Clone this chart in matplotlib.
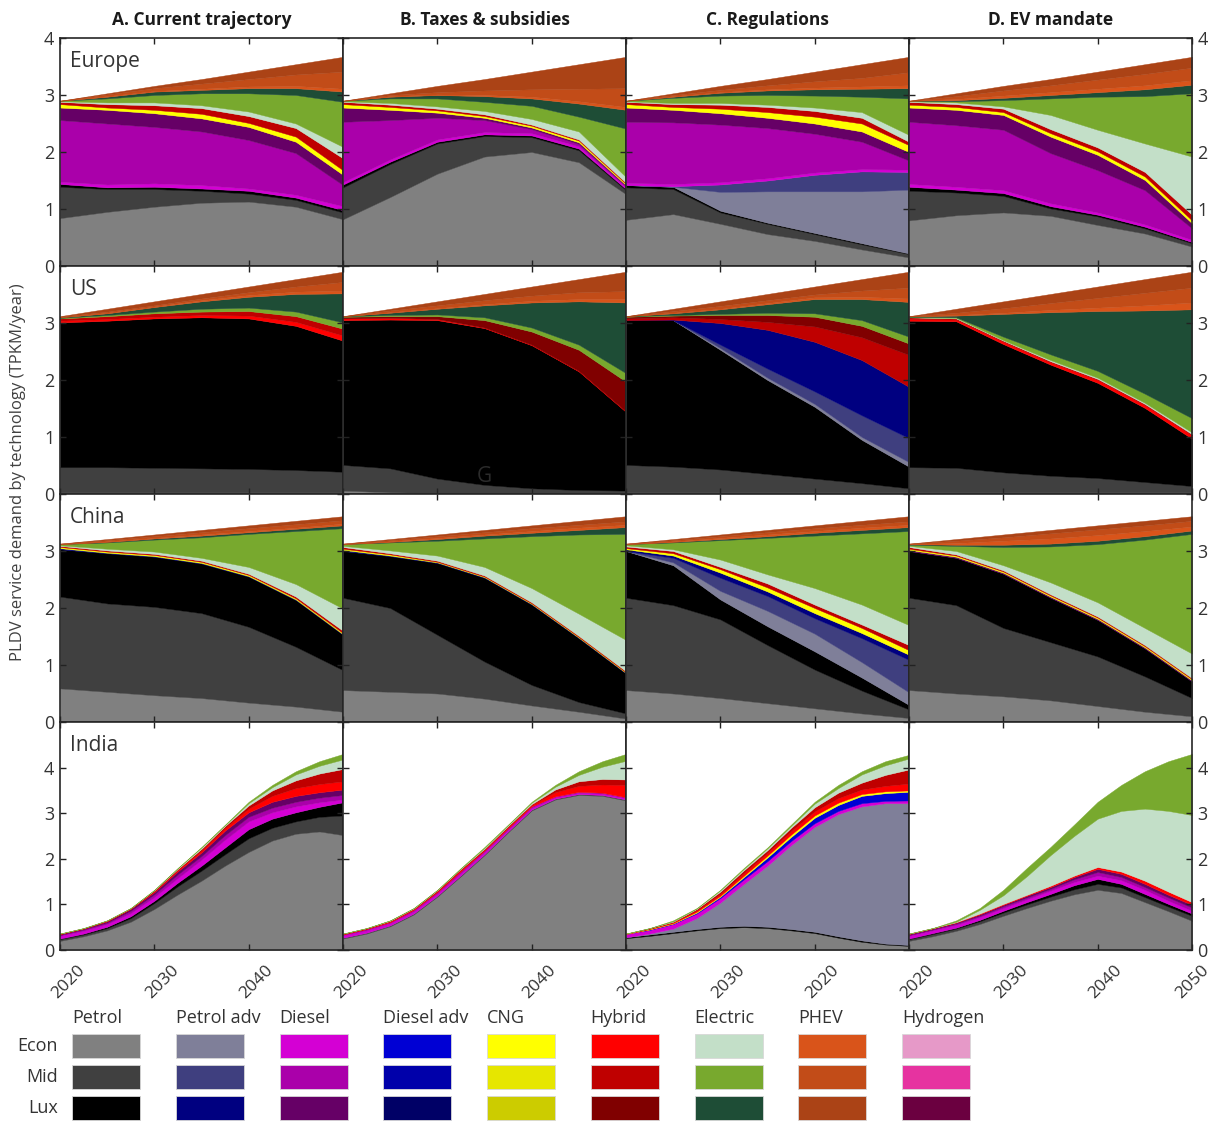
import numpy as np
import matplotlib
matplotlib.use('Agg')
import matplotlib.pyplot as plt
import matplotlib.transforms as mtransforms
from matplotlib.patches import Rectangle

plt.rcParams['font.family'] = ['Open Sans', 'DejaVu Sans']

years = [2020, 2025, 2030, 2035, 2040, 2045, 2050]
india_years = [2020, 2022.5, 2025, 2027.5, 2030, 2032.5, 2035, 2037.5, 2040, 2042.5, 2045, 2047.5, 2050]
techs = ['Petrol', 'Petrol adv', 'Diesel', 'Diesel adv', 'CNG', 'Hybrid', 'Electric', 'PHEV', 'Hydrogen']
sizes = ['Econ', 'Mid', 'Lux']
tech_colors = {
    'Petrol':     ['#808080', '#404040', '#000000'],
    'Petrol adv': ['#7f7f99', '#3f3f7f', '#000080'],
    'Diesel':     ['#d400d4', '#aa00aa', '#660066'],
    'Diesel adv': ['#0000d4', '#0000aa', '#000066'],
    'CNG':        ['#ffff00', '#e6e600', '#cccc00'],
    'Hybrid':     ['#ff0000', '#bf0000', '#800000'],
    'Electric':   ['#c3dfc8', '#78a92e', '#1e4d36'],
    'PHEV':       ['#d9541a', '#c24c18', '#ab4316'],
    'Hydrogen':   ['#e699c8', '#e633a0', '#6b0040'],
}
scenarios = ['A. Current trajectory', 'B. Taxes & subsidies', 'C. Regulations', 'D. EV mandate']
regions = ['Europe', 'US', 'China', 'India']

# top edge of each stacked layer (TPKM/year)
europe_a = {
    'Petrol Econ':   [0.84, 0.95, 1.04, 1.11, 1.13, 1.04, 0.82],
    'Petrol Mid':    [1.39, 1.35, 1.35, 1.32, 1.27, 1.16, 0.94],
    'Petrol Lux':    [1.44, 1.38, 1.39, 1.36, 1.32, 1.20, 0.98],
    'Diesel Econ':   [1.48, 1.43, 1.45, 1.42, 1.36, 1.25, 1.05],
    'Diesel Mid':    [2.56, 2.50, 2.44, 2.36, 2.21, 1.98, 1.42],
    'Diesel Lux':    [2.78, 2.74, 2.68, 2.59, 2.44, 2.18, 1.60],
    'CNG Econ':      [2.84, 2.78, 2.74, 2.67, 2.51, 2.27, 1.68],
    'Hybrid Mid':    [2.88, 2.84, 2.82, 2.77, 2.63, 2.42, 1.89],
    'Electric Econ': [2.89, 2.87, 2.87, 2.82, 2.71, 2.50, 2.09],
    'Electric Mid':  [2.90, 2.94, 3.00, 3.03, 3.03, 3.00, 2.88],
    'Electric Lux':  [2.90, 2.97, 3.06, 3.09, 3.12, 3.12, 3.06],
    'PHEV Econ':     [2.90, 2.98, 3.07, 3.11, 3.15, 3.16, 3.11],
    'PHEV Mid':      [2.90, 3.01, 3.12, 3.20, 3.28, 3.36, 3.41],
    'PHEV Lux':      [2.90, 3.03, 3.16, 3.28, 3.41, 3.54, 3.67],
}
europe_b = {
    'Petrol Econ':   [0.82, 1.21, 1.62, 1.92, 2.00, 1.82, 1.26],
    'Petrol Mid':    [1.38, 1.79, 2.15, 2.28, 2.26, 2.03, 1.33],
    'Petrol Lux':    [1.43, 1.83, 2.18, 2.31, 2.29, 2.06, 1.35],
    'Diesel Econ':   [1.47, 1.87, 2.22, 2.35, 2.33, 2.10, 1.38],
    'Diesel Mid':    [2.53, 2.56, 2.60, 2.56, 2.40, 2.14, 1.40],
    'Diesel Lux':    [2.78, 2.74, 2.69, 2.60, 2.43, 2.17, 1.42],
    'CNG Econ':      [2.84, 2.79, 2.73, 2.63, 2.46, 2.20, 1.44],
    'Hybrid Mid':    [2.88, 2.83, 2.76, 2.66, 2.48, 2.22, 1.46],
    'Electric Econ': [2.89, 2.86, 2.80, 2.72, 2.58, 2.36, 1.56],
    'Electric Mid':  [2.90, 2.94, 2.94, 2.88, 2.81, 2.62, 2.41],
    'Electric Lux':  [2.90, 2.97, 3.00, 2.98, 2.94, 2.85, 2.74],
    'PHEV Econ':     [2.90, 2.98, 3.01, 3.00, 2.97, 2.89, 2.79],
    'PHEV Mid':      [2.90, 3.00, 3.05, 3.08, 3.10, 3.11, 3.12],
    'PHEV Lux':      [2.90, 3.03, 3.16, 3.28, 3.41, 3.54, 3.67],
}
europe_c = {
    'Petrol Econ':     [0.81, 0.91, 0.74, 0.56, 0.44, 0.29, 0.15],
    'Petrol Mid':      [1.38, 1.35, 0.94, 0.74, 0.56, 0.38, 0.21],
    'Petrol Lux':      [1.42, 1.39, 0.97, 0.76, 0.58, 0.40, 0.22],
    'Petrol adv Econ': [1.42, 1.39, 1.30, 1.31, 1.31, 1.31, 1.34],
    'Petrol adv Mid':  [1.42, 1.40, 1.43, 1.50, 1.60, 1.66, 1.65],
    'Diesel Econ':     [1.46, 1.44, 1.47, 1.54, 1.64, 1.70, 1.69],
    'Diesel Mid':      [2.53, 2.52, 2.48, 2.42, 2.32, 2.18, 1.85],
    'Diesel Lux':      [2.78, 2.74, 2.68, 2.60, 2.50, 2.36, 2.00],
    'CNG Econ':        [2.84, 2.79, 2.76, 2.70, 2.62, 2.50, 2.12],
    'Hybrid Mid':      [2.88, 2.84, 2.83, 2.79, 2.72, 2.60, 2.18],
    'Electric Econ':   [2.89, 2.86, 2.86, 2.83, 2.78, 2.70, 2.30],
    'Electric Mid':    [2.90, 2.95, 2.99, 3.00, 2.99, 2.97, 2.94],
    'Electric Lux':    [2.90, 2.97, 3.04, 3.08, 3.10, 3.11, 3.12],
    'PHEV Econ':       [2.90, 2.98, 3.05, 3.10, 3.13, 3.15, 3.17],
    'PHEV Mid':        [2.90, 3.00, 3.09, 3.17, 3.24, 3.30, 3.40],
    'PHEV Lux':        [2.90, 3.03, 3.16, 3.28, 3.41, 3.54, 3.67],
}
europe_d = {
    'Petrol Econ':   [0.80, 0.89, 0.94, 0.88, 0.72, 0.57, 0.34],
    'Petrol Mid':    [1.32, 1.29, 1.23, 1.01, 0.87, 0.66, 0.40],
    'Petrol Lux':    [1.39, 1.34, 1.28, 1.05, 0.90, 0.69, 0.42],
    'Diesel Econ':   [1.44, 1.39, 1.33, 1.10, 0.94, 0.73, 0.46],
    'Diesel Mid':    [2.53, 2.47, 2.39, 1.98, 1.68, 1.33, 0.66],
    'Diesel Lux':    [2.78, 2.74, 2.65, 2.27, 1.95, 1.51, 0.75],
    'CNG Econ':      [2.83, 2.79, 2.70, 2.33, 2.01, 1.57, 0.80],
    'Hybrid Mid':    [2.88, 2.84, 2.76, 2.40, 2.08, 1.65, 0.90],
    'Electric Econ': [2.89, 2.87, 2.80, 2.65, 2.39, 2.15, 1.92],
    'Electric Mid':  [2.90, 2.89, 2.91, 2.94, 2.97, 2.98, 3.03],
    'Electric Lux':  [2.90, 2.91, 2.95, 3.00, 3.05, 3.10, 3.18],
    'PHEV Econ':     [2.90, 2.93, 2.99, 3.05, 3.11, 3.17, 3.26],
    'PHEV Mid':      [2.90, 2.98, 3.08, 3.17, 3.27, 3.37, 3.48],
    'PHEV Lux':      [2.90, 3.03, 3.16, 3.28, 3.41, 3.54, 3.67],
}
us_a = {
    'Petrol Econ':  [0.03, 0.03, 0.03, 0.03, 0.03, 0.03, 0.03],
    'Petrol Mid':   [0.47, 0.47, 0.46, 0.45, 0.44, 0.42, 0.39],
    'Petrol Lux':   [3.01, 3.04, 3.08, 3.10, 3.08, 2.95, 2.69],
    'Hybrid Econ':  [3.04, 3.07, 3.11, 3.14, 3.13, 3.02, 2.78],
    'Hybrid Mid':   [3.08, 3.12, 3.17, 3.20, 3.21, 3.12, 2.90],
    'Electric Mid': [3.09, 3.14, 3.20, 3.25, 3.27, 3.20, 3.01],
    'Electric Lux': [3.10, 3.17, 3.28, 3.38, 3.46, 3.51, 3.52],
    'PHEV Econ':    [3.10, 3.18, 3.29, 3.40, 3.49, 3.55, 3.57],
    'PHEV Mid':     [3.11, 3.20, 3.31, 3.43, 3.54, 3.64, 3.72],
    'PHEV Lux':     [3.12, 3.25, 3.38, 3.51, 3.64, 3.77, 3.90],
}
us_b = {
    'Petrol Econ':  [0.06, 0.03, 0.02, 0.02, 0.02, 0.02, 0.02],
    'Petrol Mid':   [0.51, 0.45, 0.27, 0.16, 0.10, 0.07, 0.06],
    'Petrol Lux':   [3.05, 3.06, 3.05, 2.91, 2.61, 2.15, 1.44],
    'Hybrid Econ':  [3.08, 3.09, 3.07, 2.92, 2.62, 2.16, 1.45],
    'Hybrid Lux':   [3.11, 3.12, 3.12, 3.05, 2.85, 2.53, 1.97],
    'Electric Mid': [3.12, 3.14, 3.15, 3.10, 2.92, 2.62, 2.12],
    'Electric Lux': [3.12, 3.18, 3.25, 3.31, 3.36, 3.38, 3.36],
    'PHEV Econ':    [3.12, 3.19, 3.26, 3.33, 3.39, 3.42, 3.42],
    'PHEV Mid':     [3.12, 3.22, 3.31, 3.40, 3.48, 3.54, 3.56],
    'PHEV Lux':     [3.12, 3.25, 3.38, 3.51, 3.64, 3.77, 3.90],
}
us_c = {
    'Petrol Econ':     [0.03, 0.03, 0.03, 0.03, 0.03, 0.03, 0.03],
    'Petrol Mid':      [0.51, 0.48, 0.43, 0.35, 0.27, 0.19, 0.10],
    'Petrol Lux':      [3.05, 3.05, 2.53, 2.00, 1.53, 0.95, 0.48],
    'Petrol adv Econ': [3.05, 3.05, 2.56, 2.04, 1.58, 1.00, 0.56],
    'Petrol adv Mid':  [3.05, 3.05, 2.62, 2.20, 1.80, 1.38, 0.98],
    'Petrol adv Lux':  [3.05, 3.06, 3.00, 2.88, 2.67, 2.35, 1.88],
    'Hybrid Mid':      [3.08, 3.10, 3.07, 3.02, 2.94, 2.75, 2.44],
    'Hybrid Lux':      [3.11, 3.13, 3.14, 3.14, 3.11, 2.95, 2.64],
    'Electric Mid':    [3.12, 3.14, 3.16, 3.18, 3.17, 3.05, 2.76],
    'Electric Lux':    [3.12, 3.17, 3.24, 3.33, 3.42, 3.42, 3.37],
    'PHEV Econ':       [3.12, 3.18, 3.25, 3.35, 3.45, 3.46, 3.43],
    'PHEV Mid':        [3.12, 3.21, 3.30, 3.40, 3.50, 3.57, 3.62],
    'PHEV Lux':        [3.12, 3.25, 3.38, 3.51, 3.64, 3.77, 3.90],
}
us_d = {
    'Petrol Econ':   [0.03, 0.03, 0.03, 0.03, 0.03, 0.03, 0.03],
    'Petrol Mid':    [0.47, 0.46, 0.38, 0.32, 0.28, 0.21, 0.14],
    'Petrol Lux':    [3.04, 3.03, 2.63, 2.27, 1.95, 1.51, 0.97],
    'Hybrid Econ':   [3.07, 3.06, 2.67, 2.31, 2.00, 1.56, 1.03],
    'Hybrid Mid':    [3.10, 3.08, 2.69, 2.33, 2.02, 1.58, 1.05],
    'Electric Econ': [3.10, 3.09, 2.70, 2.35, 2.04, 1.60, 1.08],
    'Electric Mid':  [3.11, 3.10, 2.76, 2.45, 2.16, 1.76, 1.33],
    'Electric Lux':  [3.12, 3.13, 3.16, 3.19, 3.21, 3.22, 3.24],
    'PHEV Econ':     [3.12, 3.14, 3.18, 3.23, 3.27, 3.31, 3.36],
    'PHEV Mid':      [3.12, 3.18, 3.26, 3.35, 3.44, 3.53, 3.62],
    'PHEV Lux':      [3.12, 3.25, 3.38, 3.51, 3.64, 3.77, 3.90],
}
china_a = {
    'Petrol Econ':    [0.59, 0.53, 0.47, 0.42, 0.34, 0.27, 0.18],
    'Petrol Mid':     [2.20, 2.08, 2.02, 1.91, 1.67, 1.32, 0.91],
    'Petrol Lux':     [3.03, 2.96, 2.90, 2.78, 2.55, 2.14, 1.53],
    'Petrol adv Lux': [3.05, 2.97, 2.91, 2.79, 2.56, 2.15, 1.54],
    'CNG Econ':       [3.07, 2.99, 2.93, 2.81, 2.58, 2.17, 1.56],
    'Hybrid Mid':     [3.09, 3.01, 2.95, 2.83, 2.60, 2.20, 1.60],
    'Electric Econ':  [3.10, 3.04, 2.99, 2.88, 2.72, 2.42, 1.99],
    'Electric Mid':   [3.12, 3.15, 3.20, 3.24, 3.30, 3.35, 3.40],
    'Electric Lux':   [3.12, 3.16, 3.22, 3.27, 3.33, 3.39, 3.45],
    'PHEV Econ':      [3.12, 3.17, 3.23, 3.29, 3.35, 3.41, 3.48],
    'PHEV Mid':       [3.13, 3.19, 3.26, 3.33, 3.40, 3.47, 3.54],
    'PHEV Lux':       [3.13, 3.21, 3.29, 3.37, 3.45, 3.53, 3.61],
}
china_b = {
    'Petrol Econ':    [0.56, 0.53, 0.50, 0.41, 0.29, 0.18, 0.06],
    'Petrol Mid':     [2.18, 2.00, 1.53, 1.06, 0.65, 0.35, 0.15],
    'Petrol Lux':     [3.00, 2.91, 2.79, 2.53, 2.06, 1.47, 0.85],
    'Petrol adv Lux': [3.02, 2.92, 2.80, 2.54, 2.07, 1.48, 0.86],
    'CNG Econ':       [3.04, 2.94, 2.81, 2.55, 2.08, 1.49, 0.87],
    'Hybrid Mid':     [3.07, 2.96, 2.83, 2.57, 2.10, 1.51, 0.89],
    'Electric Econ':  [3.09, 3.01, 2.92, 2.72, 2.35, 1.90, 1.44],
    'Electric Mid':   [3.12, 3.15, 3.18, 3.22, 3.26, 3.29, 3.30],
    'Electric Lux':   [3.12, 3.16, 3.21, 3.27, 3.32, 3.37, 3.42],
    'PHEV Econ':      [3.12, 3.17, 3.23, 3.29, 3.35, 3.41, 3.46],
    'PHEV Mid':       [3.13, 3.19, 3.26, 3.33, 3.40, 3.46, 3.52],
    'PHEV Lux':       [3.13, 3.21, 3.29, 3.37, 3.45, 3.53, 3.61],
}
china_c = {
    'Petrol Econ':     [0.56, 0.50, 0.42, 0.33, 0.24, 0.15, 0.07],
    'Petrol Mid':      [2.18, 2.05, 1.80, 1.35, 0.92, 0.55, 0.22],
    'Petrol Lux':      [3.00, 2.75, 2.15, 1.68, 1.24, 0.78, 0.30],
    'Petrol adv Econ': [3.00, 2.80, 2.30, 1.95, 1.55, 1.05, 0.52],
    'Petrol adv Mid':  [3.00, 2.88, 2.53, 2.21, 1.82, 1.47, 1.09],
    'Petrol adv Lux':  [3.03, 2.92, 2.62, 2.29, 1.91, 1.56, 1.18],
    'CNG Econ':        [3.05, 2.96, 2.68, 2.36, 2.00, 1.65, 1.26],
    'Hybrid Mid':      [3.08, 3.00, 2.72, 2.43, 2.06, 1.71, 1.35],
    'Electric Econ':   [3.10, 3.03, 2.85, 2.59, 2.35, 2.06, 1.70],
    'Electric Mid':    [3.12, 3.15, 3.19, 3.23, 3.27, 3.31, 3.35],
    'Electric Lux':    [3.12, 3.16, 3.21, 3.26, 3.32, 3.37, 3.42],
    'PHEV Econ':       [3.12, 3.17, 3.23, 3.29, 3.35, 3.41, 3.46],
    'PHEV Mid':        [3.13, 3.19, 3.26, 3.33, 3.40, 3.46, 3.52],
    'PHEV Lux':        [3.13, 3.21, 3.29, 3.37, 3.45, 3.53, 3.61],
}
china_d = {
    'Petrol Econ':   [0.56, 0.50, 0.45, 0.38, 0.28, 0.18, 0.10],
    'Petrol Mid':    [2.18, 2.05, 1.65, 1.40, 1.15, 0.80, 0.42],
    'Petrol Lux':    [3.00, 2.88, 2.60, 2.18, 1.79, 1.29, 0.71],
    'Diesel Lux':    [3.02, 2.90, 2.62, 2.20, 1.81, 1.31, 0.73],
    'CNG Econ':      [3.04, 2.92, 2.64, 2.22, 1.83, 1.33, 0.75],
    'Hybrid Mid':    [3.07, 2.94, 2.66, 2.24, 1.85, 1.35, 0.77],
    'Electric Econ': [3.09, 3.00, 2.75, 2.45, 2.10, 1.65, 1.20],
    'Electric Mid':  [3.11, 3.09, 3.07, 3.08, 3.12, 3.20, 3.30],
    'Electric Lux':  [3.12, 3.11, 3.11, 3.13, 3.18, 3.26, 3.36],
    'PHEV Econ':     [3.12, 3.14, 3.18, 3.22, 3.28, 3.35, 3.43],
    'PHEV Mid':      [3.13, 3.18, 3.24, 3.31, 3.38, 3.45, 3.53],
    'PHEV Lux':      [3.13, 3.21, 3.29, 3.37, 3.45, 3.53, 3.61],
}
# India is read every 2.5 years (india_years)
india_a = {
    'Petrol Econ':   [0.20, 0.30, 0.43, 0.62, 0.90, 1.22, 1.52, 1.85, 2.15, 2.40, 2.55, 2.60, 2.52],
    'Petrol Mid':    [0.24, 0.34, 0.48, 0.70, 1.03, 1.40, 1.74, 2.10, 2.45, 2.68, 2.82, 2.92, 2.95],
    'Petrol Lux':    [0.25, 0.36, 0.51, 0.74, 1.08, 1.48, 1.85, 2.25, 2.65, 2.88, 3.02, 3.14, 3.24],
    'Diesel Econ':   [0.31, 0.42, 0.57, 0.81, 1.16, 1.58, 1.98, 2.42, 2.82, 3.02, 3.15, 3.24, 3.30],
    'Diesel Mid':    [0.33, 0.45, 0.60, 0.86, 1.22, 1.66, 2.06, 2.52, 2.92, 3.12, 3.25, 3.34, 3.40],
    'Diesel Lux':    [0.35, 0.47, 0.63, 0.90, 1.27, 1.73, 2.14, 2.62, 3.02, 3.25, 3.38, 3.46, 3.52],
    'Hybrid Econ':   [0.35, 0.47, 0.64, 0.91, 1.29, 1.76, 2.18, 2.68, 3.10, 3.38, 3.55, 3.64, 3.70],
    'Hybrid Mid':    [0.36, 0.48, 0.65, 0.92, 1.31, 1.78, 2.22, 2.72, 3.17, 3.50, 3.72, 3.87, 3.97],
    'Electric Econ': [0.36, 0.48, 0.65, 0.92, 1.32, 1.80, 2.25, 2.74, 3.22, 3.57, 3.85, 4.04, 4.18],
    'Electric Mid':  [0.36, 0.48, 0.65, 0.92, 1.32, 1.80, 2.26, 2.75, 3.25, 3.62, 3.92, 4.14, 4.30],
}
india_b = {
    'Petrol Econ':   [0.25, 0.36, 0.52, 0.78, 1.17, 1.62, 2.08, 2.58, 3.06, 3.30, 3.40, 3.38, 3.28],
    'Petrol Mid':    [0.27, 0.38, 0.54, 0.80, 1.19, 1.64, 2.10, 2.60, 3.08, 3.32, 3.42, 3.40, 3.30],
    'Diesel Econ':   [0.32, 0.43, 0.59, 0.85, 1.24, 1.69, 2.15, 2.64, 3.12, 3.35, 3.45, 3.43, 3.33],
    'Diesel Mid':    [0.34, 0.46, 0.61, 0.88, 1.27, 1.73, 2.18, 2.67, 3.15, 3.37, 3.47, 3.45, 3.35],
    'Hybrid Econ':   [0.35, 0.47, 0.63, 0.90, 1.29, 1.76, 2.20, 2.70, 3.18, 3.46, 3.60, 3.63, 3.62],
    'Hybrid Mid':    [0.36, 0.48, 0.64, 0.91, 1.31, 1.78, 2.22, 2.72, 3.20, 3.52, 3.70, 3.75, 3.74],
    'Electric Econ': [0.36, 0.48, 0.65, 0.92, 1.32, 1.79, 2.24, 2.74, 3.23, 3.58, 3.84, 4.02, 4.15],
    'Electric Mid':  [0.36, 0.48, 0.65, 0.92, 1.32, 1.80, 2.26, 2.75, 3.25, 3.62, 3.92, 4.14, 4.30],
}
india_c = {
    'Petrol Econ':     [0.26, 0.31, 0.37, 0.43, 0.48, 0.50, 0.48, 0.43, 0.37, 0.27, 0.18, 0.12, 0.09],
    'Petrol Lux':      [0.28, 0.34, 0.40, 0.46, 0.51, 0.53, 0.51, 0.46, 0.40, 0.30, 0.21, 0.14, 0.11],
    'Petrol adv Econ': [0.28, 0.36, 0.47, 0.70, 1.04, 1.45, 1.85, 2.30, 2.70, 2.98, 3.15, 3.22, 3.22],
    'Diesel Econ':     [0.35, 0.44, 0.57, 0.80, 1.14, 1.55, 1.95, 2.39, 2.78, 3.05, 3.22, 3.27, 3.28],
    'Diesel adv Econ': [0.35, 0.45, 0.58, 0.82, 1.17, 1.60, 2.03, 2.48, 2.90, 3.18, 3.38, 3.44, 3.47],
    'CNG Econ':        [0.35, 0.46, 0.59, 0.84, 1.19, 1.63, 2.07, 2.53, 2.95, 3.23, 3.42, 3.48, 3.50],
    'Hybrid Econ':     [0.36, 0.47, 0.61, 0.87, 1.23, 1.69, 2.13, 2.61, 3.04, 3.33, 3.52, 3.60, 3.65],
    'Hybrid Mid':      [0.36, 0.48, 0.62, 0.90, 1.28, 1.75, 2.19, 2.68, 3.13, 3.45, 3.67, 3.84, 3.96],
    'Electric Econ':   [0.36, 0.48, 0.63, 0.91, 1.31, 1.78, 2.23, 2.72, 3.21, 3.55, 3.85, 4.05, 4.20],
    'Electric Mid':    [0.36, 0.48, 0.65, 0.92, 1.32, 1.80, 2.25, 2.75, 3.25, 3.62, 3.92, 4.14, 4.28],
}
india_d = {
    'Petrol Econ':   [0.20, 0.30, 0.42, 0.57, 0.75, 0.92, 1.08, 1.22, 1.32, 1.25, 1.05, 0.85, 0.64],
    'Petrol Mid':    [0.24, 0.35, 0.47, 0.63, 0.82, 1.00, 1.17, 1.33, 1.45, 1.37, 1.16, 0.95, 0.75],
    'Petrol Lux':    [0.25, 0.37, 0.49, 0.66, 0.86, 1.05, 1.23, 1.42, 1.56, 1.45, 1.23, 1.01, 0.80],
    'Diesel Econ':   [0.31, 0.43, 0.55, 0.72, 0.92, 1.11, 1.30, 1.49, 1.63, 1.53, 1.32, 1.08, 0.86],
    'Diesel Mid':    [0.33, 0.45, 0.58, 0.75, 0.96, 1.15, 1.34, 1.55, 1.71, 1.60, 1.38, 1.15, 0.93],
    'Diesel Lux':    [0.35, 0.47, 0.60, 0.78, 0.99, 1.19, 1.38, 1.60, 1.78, 1.67, 1.45, 1.21, 0.99],
    'Hybrid Econ':   [0.36, 0.48, 0.61, 0.80, 1.01, 1.21, 1.41, 1.63, 1.82, 1.72, 1.52, 1.28, 1.05],
    'Electric Econ': [0.36, 0.48, 0.62, 0.88, 1.20, 1.62, 2.08, 2.50, 2.88, 3.05, 3.10, 3.05, 2.96],
    'Electric Mid':  [0.36, 0.48, 0.65, 0.92, 1.32, 1.80, 2.26, 2.75, 3.25, 3.62, 3.92, 4.14, 4.30],
}

panels = [[europe_a, europe_b, europe_c, europe_d],
          [us_a, us_b, us_c, us_d],
          [china_a, china_b, china_c, china_d],
          [india_a, india_b, india_c, india_d]]
row_years = [years, years, years, india_years]
xlabels = [['2020', '2030', '2040', ''], ['2020', '2030', '2040', ''],
           ['2020', '2030', '2020', ''], ['2020', '2030', '2040', '2050']]

order = []
color_of = {}
for t in techs:
    for i, s in enumerate(sizes):
        order.append(t + ' ' + s)
        color_of[t + ' ' + s] = tech_colors[t][i]

W, H = 1213, 1124
fig = plt.figure(figsize=(W / 100, H / 100), dpi=100)
txt = '#333333'

col_x = [60, 343, 626, 909]
row_y = [38, 266, 494, 722]
pw, ph = 283, 228
shift = mtransforms.ScaledTranslation(0.08, 0, fig.dpi_scale_trans)

for r in range(4):
    for c in range(4):
        data = panels[r][c]
        xs = row_years[r]
        ax = fig.add_axes([col_x[c] / W, 1 - (row_y[r] + ph) / H, pw / W, ph / H])
        base = np.zeros(len(xs))
        for key in order:
            if key not in data:
                continue
            top = np.array(data[key])
            ax.fill_between(xs, base, top, facecolor=color_of[key],
                            edgecolor=color_of[key], linewidth=0.3)
            base = top
        ax.set_xlim(2020, 2050)
        ax.set_xticks([2020, 2030, 2040, 2050])
        if r < 3:
            ax.set_ylim(0, 4)
            ax.set_yticks([0, 1, 2, 3, 4])
            ax.set_yticklabels(['0', '1', '2', '3', '4' if r == 0 else ''])
        else:
            ax.set_ylim(0, 5)
            ax.set_yticks([0, 1, 2, 3, 4, 5])
            ax.set_yticklabels(['0', '1', '2', '3', '4', ''])
        ax.tick_params(direction='in', length=4, width=1, color='#222222',
                       left=True, right=True, top=True, bottom=True,
                       labelleft=(c == 0), labelright=(c == 3),
                       labelsize=13, labelcolor=txt, pad=4)
        ax.tick_params(axis='x', labelbottom=(r == 3), labelsize=12.5, pad=9)
        if r == 3:
            ax.set_xticklabels(xlabels[c], rotation=45, ha='center', va='top')
            for lab in ax.get_xticklabels():
                if lab.get_text() != '2050':
                    lab.set_transform(lab.get_transform() + shift)
        for sp in ax.spines.values():
            sp.set_color('#262626')
            sp.set_linewidth(1.2)
        if c == 0:
            ax.text(0.035, 0.895, regions[r], transform=ax.transAxes, fontsize=15,
                    color=txt, ha='left', va='center')
        if r == 1 and c == 1:
            ax.text(0.5, 0.075, 'G', transform=ax.transAxes, fontsize=15,
                    color='#2b2b2b', ha='center', va='center')

for c in range(4):
    fig.text((col_x[c] + pw / 2) / W, 1 - 20 / H, scenarios[c], fontsize=12.5,
             fontweight='bold', color='#1a1a1a', ha='center', va='center')

fig.text(18 / W, 1 - 472 / H, 'PLDV service demand by technology (TPKM/year)',
         rotation=90, fontsize=12, color='#404040', ha='center', va='center')

# legend
lax = fig.add_axes([0, 0, 1, 1])
lax.set_xlim(0, W)
lax.set_ylim(H, 0)
lax.axis('off')
for j, t in enumerate(techs):
    x0 = 72 + j * 103.75
    lax.text(x0, 1018, t, fontsize=13, color=txt, ha='left', va='center')
    for i, s in enumerate(sizes):
        y0 = 1034 + i * 31
        lax.add_patch(Rectangle((x0, y0), 68, 24, facecolor=tech_colors[t][i],
                                edgecolor='#d8d8d8', linewidth=0.6))
for i, s in enumerate(sizes):
    lax.text(58, 1046 + i * 31, s, fontsize=13, color=txt, ha='right', va='center')

fig.savefig('out.png', dpi=100)
